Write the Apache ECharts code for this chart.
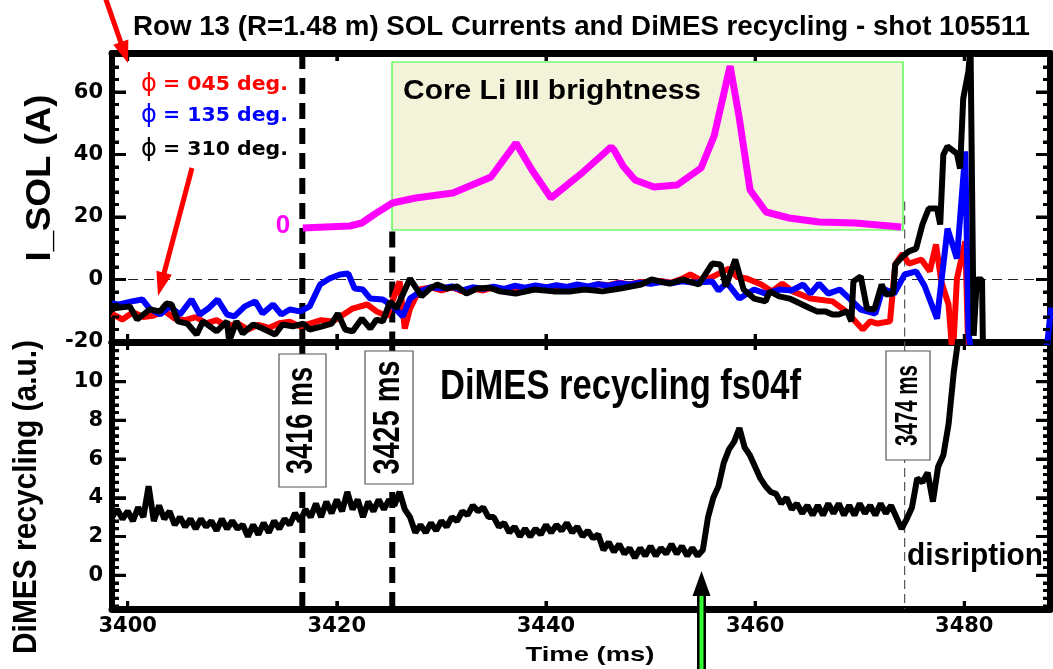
<!DOCTYPE html>
<html><head><meta charset="utf-8">
<script src="https://cdn.jsdelivr.net/npm/echarts@6/dist/echarts.min.js"></script>
<style>html,body{margin:0;padding:0;background:#fff;overflow:hidden}#c{width:1053px;height:669px}</style>
</head><body><div id="c"></div>
<script>
// ---------------- DATA ----------------
const xTickValues = [3400, 3420, 3440, 3460, 3480];
const solTickValues = [-20, 0, 20, 40, 60];
const solMinorValues = [-16, -12, -8, -4, 4, 8, 12, 16, 24, 28, 32, 36, 44, 48, 52, 56, 64, 68];
const dimesTickValues = [0, 2, 4, 6, 8, 10];
const dimesMinorValues = [-1.6, -1.2, -0.8, -0.4, 0.4, 0.8, 1.2, 1.6, 2.4, 2.8, 3.2, 3.6, 4.4, 4.8, 5.2, 5.6, 6.4, 6.8, 7.2, 7.6, 8.4, 8.8, 9.2, 9.6, 10.4, 10.8, 11.2, 11.6];

// I_SOL (A) for three toroidal angles: [time ms, current A]
const phi045 = [[3398.5,-11],[3399.5,-12.8],[3400.5,-10.5],[3401.5,-12],[3402.5,-11.5],[3403.5,-10],[3404.5,-12.5],[3405.5,-13],[3406.5,-12],[3407.5,-14],[3408.5,-13],[3409.5,-15],[3410.5,-14],[3411.5,-16],[3412.5,-14.5],[3413.5,-15.5],[3414.5,-14],[3415.5,-13.5],[3416.5,-15],[3417.5,-14],[3418.5,-13],[3419.6,-13.4],[3420.5,-11.5],[3421.5,-9.3],[3422.9,-8.0],[3423.8,-10.2],[3424.8,-11.8],[3426.0,-0.6],[3426.5,-15.7],[3427.0,-9.3],[3427.9,-3.2],[3429,-2.5],[3430,-3.5],[3431,-2.5],[3432,-3.8],[3433,-3],[3434,-3.5],[3435,-2.5],[3436,-3.2],[3437,-2.6],[3438,-3],[3439,-2.2],[3440,-2.8],[3441,-2],[3442,-2.5],[3443,-1.8],[3444,-2.6],[3445,-1.5],[3446,-1.8],[3447,-1.0],[3448,-1.6],[3449,-0.8],[3450,-1.2],[3451,-0.5],[3452,-1.0],[3453,0.2],[3453.8,1.6],[3455,-0.5],[3456,1.0],[3457.5,3.5],[3458.3,0.8],[3459.2,0.3],[3460.6,-1.6],[3461.6,-3.8],[3462.6,-1.3],[3463.6,-3.8],[3465.3,-6.1],[3467.4,-7.0],[3468.7,-10.2],[3470.3,-16.0],[3471.0,-13.4],[3471.7,-14.1],[3472.9,-13.4],[3473.4,4.8],[3474.1,8.3],[3474.7,5.1],[3475.9,6.4],[3476.7,2.6],[3477.3,11.2],[3477.8,-0.6],[3478.5,-8],[3478.9,-25],[3479.3,0.3],[3480.1,12.2],[3480.4,-25]];
const phi135 = [[3398.5,-7.7],[3399.2,-8.0],[3400.4,-7.0],[3401.4,-6.4],[3402.1,-9.3],[3403.1,-11.2],[3404.0,-8.6],[3405.0,-11.2],[3406.1,-6.4],[3406.9,-11.2],[3407.7,-9.3],[3408.6,-6.4],[3409.5,-11.2],[3410.2,-11.8],[3411.2,-8.6],[3412.2,-7.0],[3412.9,-10.9],[3413.9,-8.0],[3414.7,-11.2],[3415.5,-9.6],[3416.5,-10.2],[3417.4,-8.6],[3418.4,-1.6],[3419.3,0.3],[3420.3,1.6],[3421.1,1.9],[3421.7,-2.9],[3422.5,-3.2],[3423.2,-6.1],[3424.4,-6.4],[3425.4,-8.6],[3426.3,-11.8],[3427.0,-6.1],[3428.0,-3.8],[3429,-2.5],[3430,-2.8],[3431,-2.2],[3432,-3.5],[3433,-2.5],[3434,-3.0],[3435,-2.3],[3436,-3.0],[3437,-2.0],[3438,-2.6],[3439,-1.9],[3440,-2.5],[3441,-1.8],[3442,-2.4],[3443,-1.6],[3444,-2.2],[3445,-1.5],[3446,-2.0],[3447,-1.2],[3448,-1.6],[3449,-1.0],[3450,-1.4],[3451,-0.8],[3452,-1.2],[3453,-0.6],[3454,-1.0],[3455.9,-0.6],[3456.5,-3.5],[3457.3,-1.0],[3458.5,-6.1],[3459.9,-3.2],[3461,-4.5],[3462.3,-3.2],[3463.5,-3.5],[3464.6,-1.6],[3465.3,-4.5],[3466.1,-1.3],[3467.0,-4.5],[3468.1,-3.2],[3468.8,-5.4],[3470.1,-9.6],[3471.5,-10.9],[3472.2,-2.9],[3473.3,-4.5],[3474.3,1.6],[3475.4,2.6],[3476.2,-2],[3477.4,-12.5],[3478.4,16.3],[3479.3,6.7],[3480.1,41],[3480.4,-16.6],[3480.7,-25],[3487.8,-25],[3488.3,-9]];
const phi310 = [[3398.5,-9.3],[3400.2,-8.6],[3400.9,-12.8],[3402.1,-9.6],[3403.1,-10.2],[3403.7,-7.7],[3404.2,-8.0],[3404.8,-13.4],[3405.7,-14.1],[3406.6,-17.6],[3407.2,-13.4],[3408.5,-16.6],[3409.5,-13.4],[3409.7,-19.8],[3410.4,-13.4],[3411.0,-17.3],[3412.0,-14.4],[3412.9,-15.7],[3414.1,-17.6],[3414.8,-14.4],[3415.8,-15.0],[3416.8,-14.1],[3417.4,-16.0],[3418.6,-15.0],[3419.5,-14.1],[3420.1,-10.9],[3420.8,-16.0],[3421.5,-16.6],[3422.4,-12.5],[3423.2,-15.7],[3423.8,-12.8],[3424.4,-13.4],[3425.1,-7.0],[3425.7,-9.3],[3427.0,0.3],[3428.1,-5.4],[3428.9,-2.9],[3429.6,-1.6],[3430.5,-2.9],[3431.5,-2.2],[3432.4,-4.5],[3433.4,-2.9],[3434.6,-2.6],[3435.6,-3.8],[3437.1,-4.5],[3438.9,-3.2],[3440.7,-3.8],[3442.4,-3.8],[3443.7,-3.2],[3445.4,-3.8],[3447.1,-2.9],[3449.1,-1.6],[3450.1,0],[3451.8,-1.3],[3453.1,0],[3454.6,-1.6],[3455.9,5.1],[3456.7,4.8],[3457.2,-2.2],[3458.1,6.4],[3458.9,-3.2],[3459.9,-6.1],[3461.0,-7.0],[3461.4,-3.8],[3462.3,-5.4],[3463.3,-6.1],[3464.3,-7.7],[3465.3,-9.3],[3465.9,-10.2],[3466.7,-10.2],[3467.4,-11.2],[3468.0,-11.2],[3468.8,-10.2],[3469.2,-13.4],[3469.4,-0.6],[3470.1,1.0],[3470.7,-9.3],[3471.4,-9.6],[3472.1,-1.6],[3472.5,-4.8],[3473.2,-4.5],[3473.4,4.8],[3474.1,7.4],[3474.7,9.0],[3475.4,9.9],[3476.0,17.6],[3476.6,22.7],[3477.4,22.7],[3477.7,17.6],[3478.0,40.0],[3478.4,42.6],[3479.3,40.3],[3479.6,35.5],[3479.9,57.9],[3480.4,66.6],[3480.6,75],[3480.9,-18],[3481.2,0],[3481.7,0],[3481.8,-25]];

// Core Li III brightness (inset, arbitrary units): [time ms, brightness]
const liIII = [[3416.75,0],[3418.85,0.1],[3421.24,0.2],[3422.39,0.5],[3423.64,1.4],[3425.31,2.5],[3427.53,3.0],[3431.10,3.5],[3434.74,5.1],[3437.13,8.5],[3438.66,5.8],[3440.48,3.0],[3443.44,5.5],[3446.22,8.1],[3446.51,7.8],[3447.37,6.2],[3448.52,4.8],[3450.33,4.1],[3452.54,4.3],[3454.83,6.0],[3456.08,9.2],[3457.61,16.2],[3458.47,11.1],[3459.52,3.8],[3461.05,1.6],[3463.25,1.0],[3466.12,0.6],[3469.57,0.5],[3473.97,0.1]];

// DiMES recycling fs04f (a.u.), sampled every 0.5 ms from 3398.5 ms
const dimesStart = 3398.5, dimesStep = 0.5;
const dimesValues = [3.0,3.4,2.9,3.3,2.8,3.5,3.0,4.6,2.8,3.6,2.9,3.3,2.6,3.0,2.5,2.9,2.4,2.9,2.5,2.8,2.3,2.9,2.4,2.8,2.4,2.6,2.0,2.6,2.1,2.7,2.2,2.8,2.4,2.9,2.6,3.2,2.8,3.4,3.0,3.7,3.0,3.8,3.2,3.9,3.3,4.3,3.4,3.9,3.0,3.8,3.3,3.9,3.4,3.9,3.6,4.3,3.4,3.0,2.2,2.6,2.2,2.7,2.3,2.8,2.5,3.0,2.8,3.3,3.1,3.6,3.3,3.5,3.0,3.0,2.5,2.7,2.2,2.5,2.0,2.4,2.0,2.4,2.1,2.6,2.2,2.6,2.3,2.7,2.2,2.5,2.0,2.3,1.9,2.1,1.3,1.7,1.2,1.6,1.1,1.4,0.9,1.4,1.0,1.5,1.0,1.4,1.1,1.6,1.1,1.5,1.0,1.4,1.0,1.3,3.0,4.0,4.6,5.8,6.5,6.9,7.6,6.6,6.2,5.6,5.0,4.6,4.3,4.2,3.7,4.0,3.4,3.7,3.2,3.6,3.1,3.6,3.1,3.7,3.2,3.7,3.1,3.6,3.1,3.7,3.2,3.6,3.1,3.7,3.2,3.6,3.0,2.4,2.9,3.5,5.0,4.8,5.3,3.8,5.6,6.2,7.8,10.5,12.5,14];

// marked times (ms)
const marker3416 = 3416.7, marker3425 = 3425.3, marker3474 = 3474.3, puffTime = 3455.0;

// ---------------- AXIS EXTENTS / GRID ----------------
const X_MIN = 3398.5, X_MAX = 3488.2;
const SOL_MIN = -20, SOL_MAX = 72.5;
const DIM_MIN = -1.75, DIM_MAX = 12.05;
const LI_MIN = -11.4, LI_MAX = 17.5;
const GRID_W = 938, TOP_H = 289, BOT_H = 267;
const dimesData = dimesValues.map((v, i) => [dimesStart + i * dimesStep, v]);

// ---------------- HELPERS ----------------
const mctx = document.createElement('canvas').getContext('2d');
function txt(text, x, y, size, target, o) {
  o = o || {};
  const fam = o.family || 'Liberation Sans', wt = o.weight || 'bold';
  const font = wt + ' ' + size + 'px "' + fam + '"';
  mctx.font = font;
  const w = mctx.measureText(text).width;
  const s = (target && w > 0) ? target / w : 1;
  const al = o.align || 'center';
  return { type: 'text', x: x, y: y, rotation: o.rot || 0, scaleX: s, z: o.z || 50, silent: true,
    style: { text: text, font: font, fill: o.fill || '#000', textAlign: al, textVerticalAlign: 'middle' } };
}
function arrow(x0, y0, x1, y1, color, w, hl, hw, z) {
  const dx = x1 - x0, dy = y1 - y0, L = Math.hypot(dx, dy), ux = dx / L, uy = dy / L;
  const bx = x1 - ux * hl, by = y1 - uy * hl, nx = -uy, ny = ux;
  return [
    { type: 'line', z: z, silent: true, shape: { x1: x0, y1: y0, x2: bx + ux * 2, y2: by + uy * 2 }, style: { stroke: color, lineWidth: w } },
    { type: 'polygon', z: z, silent: true, shape: { points: [[x1, y1], [bx + nx * hw, by + ny * hw], [bx - nx * hw, by - ny * hw]] }, style: { fill: color } }
  ];
}
function labelBox(text, x, y, w, h, size, target) {
  return [
    { type: 'rect', z: 40, silent: true, shape: { x: x, y: y, width: w, height: h }, style: { fill: '#fff', stroke: '#555', lineWidth: 1.2 } },
    txt(text, x + w / 2, y + h / 2, size, target, { rot: Math.PI / 2, z: 41 })
  ];
}
function inList(list) { return function (v) { return list.some(function (t) { return Math.abs(t - v) < 1e-6; }) ? String(v) : ''; }; }

// ---------------- AXES ----------------
const tickFont = { fontFamily: 'DejaVu Sans', fontWeight: 'bold', fontSize: 21, color: '#000' };
const tickStyle = { color: '#000', width: 3 };
function xAx(grid, pos, labels) {
  return { type: 'value', gridIndex: grid, position: pos, min: X_MIN, max: X_MAX, splitNumber: 5,
    axisLine: { show: true, onZero: false, lineStyle: { color: '#000', width: 7 } },
    axisTick: { show: true, inside: true, length: 8, lineStyle: tickStyle },
    axisLabel: labels ? Object.assign({ show: true, margin: 7, showMinLabel: false, showMaxLabel: false, formatter: inList(xTickValues) }, tickFont) : { show: false },
    splitLine: { show: false } };
}
function yAx(grid, pos, min, max, split, ticks, labels, showMin) {
  return { type: 'value', gridIndex: grid, position: pos, min: min, max: max, splitNumber: split,
    axisLine: { show: true, onZero: false, lineStyle: { color: '#000', width: 6 } },
    axisTick: { show: true, inside: true, length: 14, lineStyle: tickStyle },
    minorTick: { show: true, splitNumber: 5, length: 7, lineStyle: tickStyle },
    axisLabel: labels ? Object.assign({ show: true, margin: 9, showMinLabel: !!showMin, showMaxLabel: false, formatter: inList(ticks) }, tickFont) : { show: false },
    splitLine: { show: false } };
}
const xAxis = [xAx(0, 'bottom', false), xAx(0, 'top', false), xAx(1, 'bottom', true), xAx(1, 'top', false)];
const yAxis = [
  yAx(0, 'left', SOL_MIN, SOL_MAX, 5, solTickValues, true, true),
  yAx(0, 'right', SOL_MIN, SOL_MAX, 5, solTickValues, false),
  { type: 'value', gridIndex: 0, position: 'right', min: LI_MIN, max: LI_MAX, show: false },
  yAx(1, 'left', DIM_MIN, DIM_MAX, 7, dimesTickValues, true),
  yAx(1, 'right', DIM_MIN, DIM_MAX, 7, dimesTickValues, false)
];

function seg(xi, yi, pts, color, width, dash, z) {
  return { type: 'line', xAxisIndex: xi, yAxisIndex: yi, data: pts, symbol: 'none', silent: true, z: z || 2,
    lineStyle: { color: color, width: width, type: dash || 'solid' } };
}
function curve(xi, yi, pts, color, width, z) {
  return { type: 'line', xAxisIndex: xi, yAxisIndex: yi, data: pts, symbol: 'none', silent: true, z: z,
    lineStyle: { color: color, width: width } };
}
// tick marks as broken line series on the axes' own scales (lengths given in pixels)
function tickSeries(xi, yi, yMin, yMax, plotH, majors, minors) {
  const pxX = (X_MAX - X_MIN) / GRID_W, pxY = (yMax - yMin) / plotH;
  const pts = [];
  function add(a, b) { pts.push(a, b, [a[0], '-']); }
  majors.forEach(function (v) { add([X_MIN, v], [X_MIN + 14 * pxX, v]); add([X_MAX, v], [X_MAX - 14 * pxX, v]); });
  minors.forEach(function (v) { add([X_MIN, v], [X_MIN + 7 * pxX, v]); add([X_MAX, v], [X_MAX - 7 * pxX, v]); });
  xTickValues.forEach(function (t) { add([t, yMin], [t, yMin + 8 * pxY]); add([t, yMax], [t, yMax - 8 * pxY]); });
  return { type: 'line', xAxisIndex: xi, yAxisIndex: yi, data: pts, symbol: 'none', silent: true, clip: false,
    connectNulls: false, z: 7, lineStyle: { color: '#000', width: 3, cap: 'butt' } };
}
const series = [
  seg(0, 0, [[X_MIN, 0], [X_MAX, 0]], '#222', 1.2, [10, 6], 1),
  seg(0, 0, [[marker3416, SOL_MAX], [marker3416, SOL_MIN]], '#000', 6, [16, 9], 2),
  seg(0, 0, [[marker3425, 15.4], [marker3425, SOL_MIN]], '#000', 6, [16, 9], 2),
  seg(0, 0, [[marker3474, 25], [marker3474, SOL_MIN]], '#555', 1.2, [9, 5], 2),
  curve(0, 0, phi045, '#ff0000', 6, 3),
  curve(0, 0, phi135, '#0000ff', 6, 4),
  curve(0, 0, phi310, '#000000', 6, 5),
  curve(0, 2, liIII, '#ff00ff', 7, 12),
  seg(2, 3, [[marker3416, DIM_MAX], [marker3416, DIM_MIN]], '#000', 6, [16, 9], 2),
  seg(2, 3, [[marker3425, DIM_MAX], [marker3425, DIM_MIN]], '#000', 6, [16, 9], 2),
  seg(2, 3, [[marker3474, DIM_MAX], [marker3474, DIM_MIN]], '#555', 1.2, [9, 5], 2),
  curve(2, 3, dimesData, '#000000', 6, 5),
  tickSeries(0, 0, SOL_MIN, SOL_MAX, TOP_H, solTickValues, solMinorValues),
  tickSeries(2, 3, DIM_MIN, DIM_MAX, BOT_H, dimesTickValues, dimesMinorValues)
];

// ---------------- GRAPHICS ----------------
let g = [];
g.push({ type: 'rect', z: 6, silent: true, shape: { x: 392, y: 62, width: 511, height: 168 }, style: { fill: '#f3f3da', stroke: '#33ff33', lineWidth: 1.2 } });
g.push(txt('Core Li III brightness', 403, 91, 28, 298, { align: 'left', z: 13 }));
g.push(txt('0', 283, 226, 26, 0, { fill: '#ff00ff' }));
g.push(txt('Row 13 (R=1.48 m) SOL Currents and DiMES recycling - shot 105511', 581.5, 27, 28, 897));
g.push(txt('I_SOL (A)', 40, 178, 35, 167, { rot: Math.PI / 2 }));
g.push(txt('DiMES recycling (a.u.)', 27, 497, 33, 314, { rot: Math.PI / 2 }));
g.push(txt('Time (ms)', 590, 655, 21, 129));
g.push(txt('DiMES recycling fs04f', 440, 387, 43, 361, { align: 'left' }));
g.push(txt('disription', 907, 556, 31, 136, { align: 'left', z: 45 }));
[['045', '#ff0000', 85], ['135', '#0000ff', 116], ['310', '#000000', 150]].forEach(function (l) {
  g.push(txt('ϕ', 141, l[2], 24, 0, { family: 'DejaVu Sans', weight: 'normal', align: 'left', fill: l[1] }));
  g.push(txt('= ' + l[0] + ' deg.', 163, l[2], 20, 125, { family: 'DejaVu Sans', align: 'left', fill: l[1] }));
});
g = g.concat(labelBox('3416 ms', 279, 354, 47, 133, 36, 107));
g = g.concat(labelBox('3425 ms', 365, 351, 48, 133, 36, 114));
g = g.concat(labelBox('3474 ms', 886, 351, 44, 109, 31, 81));
g = g.concat(arrow(104, -6, 128, 63, '#ff0000', 5, 22, 8, 60));
g = g.concat(arrow(192, 168, 158, 296, '#ff0000', 5, 24, 8, 60));
g.push({ type: 'rect', z: 60, silent: true, shape: { x: 697, y: 592, width: 9, height: 80 }, style: { fill: '#000' } });
g.push({ type: 'rect', z: 61, silent: true, shape: { x: 699.5, y: 596, width: 4, height: 76 }, style: { fill: '#33ff33' } });
g.push({ type: 'polygon', z: 62, silent: true, shape: { points: [[701.5, 571], [692.5, 596], [710.5, 596]] }, style: { fill: '#000' } });

const chart = echarts.init(document.getElementById('c'), null, { renderer: 'canvas' });
chart.setOption({
  animation: false,
  backgroundColor: '#fff',
  grid: [
    { left: 112, top: 53, width: GRID_W, height: TOP_H },
    { left: 112, top: 342, width: GRID_W, height: BOT_H }
  ],
  xAxis: xAxis,
  yAxis: yAxis,
  series: series,
  graphic: { elements: g }
});
</script></body></html>
